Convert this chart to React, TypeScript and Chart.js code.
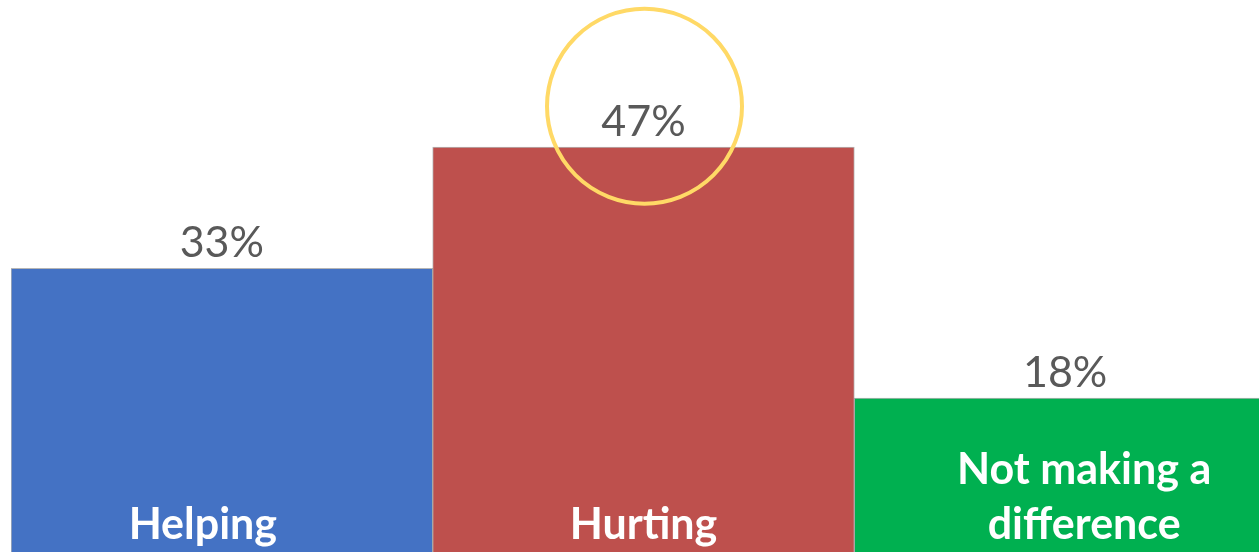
import React, { useEffect, useRef } from "react";
import { Chart, registerables } from "chart.js";

Chart.register(...registerables);

const categories = [["Helping"], ["Hurting"], ["Not making a", "difference"]];
const values = [33, 47, 18];
const valueLabels = ["33%", "47%", "18%"];
const barColors = ["#4472C4", "#BE504D", "#00B050"];
const labelOffsets = [-19, 0, 19];
const highlightIndex = 1;

const FONT = "Lato, 'Open Sans', sans-serif";

const labelPlugin = {
  id: "labelPlugin",
  afterDatasetsDraw(chart: any) {
    const ctx = chart.ctx;
    const meta = chart.getDatasetMeta(0);
    const bottom = chart.chartArea.bottom;
    ctx.save();
    meta.data.forEach((bar: any, i: number) => {
      ctx.font = `400 43px ${FONT}`;
      ctx.fillStyle = "#595959";
      ctx.textAlign = "center";
      ctx.textBaseline = "alphabetic";
      ctx.fillText(valueLabels[i], bar.x, bar.y - 11);
      ctx.font = `700 43px ${FONT}`;
      ctx.fillStyle = "#FFFFFF";
      const lines = categories[i];
      const lh = 55;
      lines.forEach((line, j) => {
        const y = bottom - 15 - (lines.length - 1 - j) * lh;
        ctx.fillText(line, bar.x + labelOffsets[i], y);
      });
      if (i === highlightIndex) {
        ctx.beginPath();
        ctx.strokeStyle = "#FFD966";
        ctx.lineWidth = 4;
        ctx.arc(bar.x + 1, bar.y - 41, 97.5, 0, Math.PI * 2);
        ctx.stroke();
      }
    });
    ctx.restore();
  },
};

export default function App() {
  const ref = useRef<HTMLCanvasElement | null>(null);
  useEffect(() => {
    if (!ref.current) return;
    const chart = new Chart(ref.current, {
      type: "bar",
      data: {
        labels: categories.map((c) => c.join(" ")),
        datasets: [
          {
            data: values,
            backgroundColor: barColors,
            borderColor: "rgba(120,120,120,0.55)",
            borderWidth: 1,
            barPercentage: 1,
            categoryPercentage: 1,
          },
        ],
      },
      options: {
        responsive: false,
        animation: false,
        devicePixelRatio: 1,
        layout: { padding: { left: 11, right: 0, top: 0, bottom: 0 } },
        plugins: { legend: { display: false }, tooltip: { enabled: false } },
        scales: {
          x: { display: false },
          y: { display: false, min: 0, max: 64 },
        },
      },
      plugins: [labelPlugin],
    });
    return () => chart.destroy();
  }, []);
  return (
    <div
      style={{
        position: "fixed",
        left: 0,
        top: 0,
        width: 1259,
        height: 552,
        overflow: "hidden",
        background: "#fff",
      }}
    >
      <canvas ref={ref} width={1276} height={554} style={{ display: "block" }} />
    </div>
  );
}
